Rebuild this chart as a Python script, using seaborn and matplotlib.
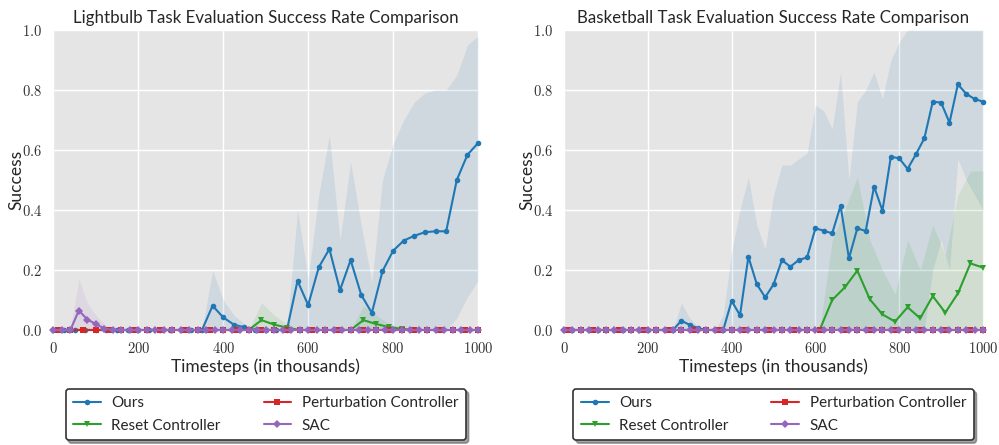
import numpy as np
import pandas as pd
import matplotlib
matplotlib.use("Agg")
import matplotlib.pyplot as plt
import seaborn as sns
from matplotlib.ticker import FuncFormatter

# ---------------- data ----------------
# sampling grids (thousands of timesteps)
x25 = [0, 25, 50, 75, 100, 125, 150, 175, 200, 225, 250, 275, 300, 325, 350, 375, 400, 425, 450, 475,
       500, 525, 550, 575, 600, 625, 650, 675, 700, 725, 750, 775, 800, 825, 850, 875, 900, 925, 950, 975, 1000]
x20 = [0, 20, 40, 60, 80, 100, 120, 140, 160, 180, 200, 220, 240, 260, 280, 300, 320, 340, 360, 380,
       400, 420, 440, 460, 480, 500, 520, 540, 560, 580, 600, 620, 640, 660, 680, 700, 720, 740, 760, 780,
       800, 820, 840, 860, 880, 900, 920, 940, 960, 980, 1000]
x30 = [10, 40, 70, 100, 130, 160, 190, 220, 250, 280, 310, 340, 370, 400, 430, 460, 490, 520, 550, 580,
       610, 640, 670, 700, 730, 760, 790, 820, 850, 880, 910, 940, 970, 1000]

# Lightbulb task
lb_ours = [0, 0, 0, 0, 0, 0, 0, 0, 0, 0, 0, 0, 0, 0, 0, 0.081, 0.042, 0.018, 0.009, 0,
           0, 0, 0, 0.164, 0.083, 0.209, 0.270, 0.133, 0.233, 0.117, 0.057, 0.196, 0.264, 0.298, 0.314, 0.326,
           0.329, 0.329, 0.500, 0.584, 0.623]
lb_ours_hi = [0, 0, 0, 0, 0, 0, 0, 0, 0, 0, 0, 0, 0, 0, 0, 0.20, 0.10, 0.05, 0.02, 0,
              0, 0, 0, 0.40, 0.17, 0.45, 0.65, 0.30, 0.56, 0.35, 0.16, 0.50, 0.62, 0.70, 0.76, 0.79,
              0.80, 0.80, 0.85, 0.95, 0.98]
lb_ours_lo = [0, 0, 0, 0, 0, 0, 0, 0, 0, 0, 0, 0, 0, 0, 0, 0, 0, 0, 0, 0,
              0, 0, 0, 0, 0, 0, 0, 0, 0, 0, 0, 0, 0, 0, 0, 0,
              0, 0, 0.04, 0.11, 0.165]
lb_reset = [0, 0, 0, 0, 0, 0, 0, 0, 0, 0, 0, 0, 0, 0, 0, 0, 0.033, 0.018, 0.008, 0,
            0, 0, 0, 0, 0.033, 0.020, 0.010, 0.004, 0, 0, 0, 0, 0, 0]
lb_reset_hi = [0, 0, 0, 0, 0, 0, 0, 0, 0, 0, 0, 0, 0, 0, 0, 0, 0.09, 0.05, 0.02, 0,
               0, 0, 0, 0, 0.08, 0.05, 0.02, 0.01, 0, 0, 0, 0, 0, 0]
lb_pert = [0] * 34
lb_sac = [0, 0, 0, 0.065, 0.035, 0.020, 0.005, 0, 0, 0, 0, 0, 0, 0, 0, 0, 0, 0, 0, 0,
          0, 0, 0, 0, 0, 0, 0, 0, 0, 0, 0, 0, 0, 0, 0, 0, 0, 0, 0, 0,
          0, 0, 0, 0, 0, 0, 0, 0, 0, 0, 0]
lb_sac_hi = [0, 0, 0, 0.17, 0.09, 0.05, 0.02, 0, 0, 0, 0, 0, 0, 0, 0, 0, 0, 0, 0, 0,
             0, 0, 0, 0, 0, 0, 0, 0, 0, 0, 0, 0, 0, 0, 0, 0, 0, 0, 0, 0,
             0, 0, 0, 0, 0, 0, 0, 0, 0, 0, 0]

# Basketball task
bb_ours = [0, 0, 0, 0, 0, 0, 0, 0, 0, 0, 0, 0, 0, 0, 0.031, 0.017, 0.006, 0, 0, 0,
           0.097, 0.049, 0.244, 0.153, 0.109, 0.152, 0.233, 0.211, 0.233, 0.242, 0.339, 0.331, 0.322, 0.414,
           0.239, 0.339, 0.330, 0.478, 0.398, 0.578, 0.572, 0.537, 0.586, 0.639, 0.761, 0.758, 0.691, 0.819,
           0.787, 0.770, 0.761]
bb_ours_hi = [0, 0, 0, 0, 0, 0, 0, 0, 0, 0, 0, 0, 0, 0, 0.09, 0.04, 0.01, 0, 0, 0.05,
              0.26, 0.40, 0.51, 0.35, 0.27, 0.45, 0.55, 0.55, 0.57, 0.59, 0.75, 0.73, 0.67, 0.86,
              0.50, 0.76, 0.80, 0.86, 0.77, 0.90, 0.96, 1.0, 1.0, 1.0, 1.0, 1.0, 1.0, 1.0,
              1.0, 1.0, 1.0]
bb_ours_lo = [0, 0, 0, 0, 0, 0, 0, 0, 0, 0, 0, 0, 0, 0, 0, 0, 0, 0, 0, 0,
              0, 0, 0, 0, 0, 0, 0, 0, 0, 0, 0, 0, 0, 0,
              0, 0, 0, 0, 0, 0, 0, 0, 0, 0, 0.2, 0.3, 0.2, 0.57,
              0.5, 0.45, 0.4]
bb_reset = [0, 0, 0, 0, 0, 0, 0, 0, 0, 0, 0, 0, 0, 0, 0, 0, 0, 0, 0, 0,
            0, 0.100, 0.142, 0.198, 0.102, 0.052, 0.028, 0.076, 0.039, 0.113, 0.058, 0.122, 0.222, 0.208]
bb_reset_hi = [0, 0, 0, 0, 0, 0, 0, 0, 0, 0, 0, 0, 0, 0, 0, 0, 0, 0, 0, 0,
               0, 0.30, 0.40, 0.51, 0.30, 0.20, 0.12, 0.30, 0.20, 0.35, 0.25, 0.45, 0.53, 0.53]
bb_pert = [0] * 34
bb_sac = [0] * 51

series_names = ["Ours", "Reset Controller", "Perturbation Controller", "SAC"]
colors = ["#1f77b4", "#2ca02c", "#d62728", "#9467bd"]
markers = ["o", "v", "s", "D"]
titles = ["Lightbulb Task Evaluation Success Rate Comparison",
          "Basketball Task Evaluation Success Rate Comparison"]

# ---------------- style ----------------
sns.set_theme(style="darkgrid")
plt.rcParams["font.family"] = ["Lato", "DejaVu Sans"]
plt.rcParams["mathtext.fontset"] = "cm"

fig = plt.figure(figsize=(9.99, 4.45), dpi=100)
axL = fig.add_axes([0.0534, 0.2584, 0.4251, 0.6742])
axR = fig.add_axes([0.5646, 0.2584, 0.4194, 0.6742])

panels = [
    (axL, [(x25, lb_ours, lb_ours_lo, lb_ours_hi),
           (x30, lb_reset, None, lb_reset_hi),
           (x30, lb_pert, None, None),
           (x20, lb_sac, None, lb_sac_hi)]),
    (axR, [(x20, bb_ours, bb_ours_lo, bb_ours_hi),
           (x30, bb_reset, None, bb_reset_hi),
           (x30, bb_pert, None, None),
           (x20, bb_sac, None, None)]),
]

for (ax, series), title in zip(panels, titles):
    ax.set_facecolor("#E5E5E5")
    for (xs, ys, lo, hi), name, c, m in zip(series, series_names, colors, markers):
        df = pd.DataFrame({"t": xs, "s": ys})
        if hi is not None:
            low = lo if lo is not None else [0] * len(xs)
            ax.fill_between(xs, low, hi, color=c, alpha=0.11, linewidth=0)
        sns.lineplot(data=df, x="t", y="s", ax=ax, color=c, marker=m, markersize=6,
                     markeredgewidth=0, linewidth=1.5, label=name, clip_on=False)
    ax.set_xlim(0, 1000)
    ax.set_ylim(0, 1.0)
    ax.set_xticks([0, 200, 400, 600, 800, 1000])
    ax.set_yticks([0, 0.2, 0.4, 0.6, 0.8, 1.0])
    ax.xaxis.set_major_formatter(FuncFormatter(lambda v, p: r"$%d$" % v))
    ax.yaxis.set_major_formatter(FuncFormatter(lambda v, p: r"$%.1f$" % v))
    ax.tick_params(axis="both", labelsize=10.5, pad=2, colors="#333333")
    ax.grid(True, color="white", linewidth=1.0)
    for sp in ax.spines.values():
        sp.set_visible(False)
    ax.set_title(title, fontsize=12.2, pad=5)
    ax.set_xlabel("Timesteps (in thousands)", fontsize=12.5, labelpad=2)
    ax.set_ylabel("Success", fontsize=12.5, labelpad=-2)
    handles, labels = ax.get_legend_handles_labels()
    for h in handles:
        h.set_markersize(4)
    leg = ax.legend(handles, labels, loc="upper center", bbox_to_anchor=(0.5, -0.17), ncol=2,
                    fontsize=11, frameon=True, fancybox=True, shadow=True, facecolor="white",
                    edgecolor="#333333", handlelength=1.8, handletextpad=0.7, columnspacing=2.8,
                    borderpad=0.5, labelspacing=0.55)
    leg.get_frame().set_linewidth(1.2)
    leg.get_frame().set_alpha(1.0)

fig.savefig("out.png", dpi=100)
